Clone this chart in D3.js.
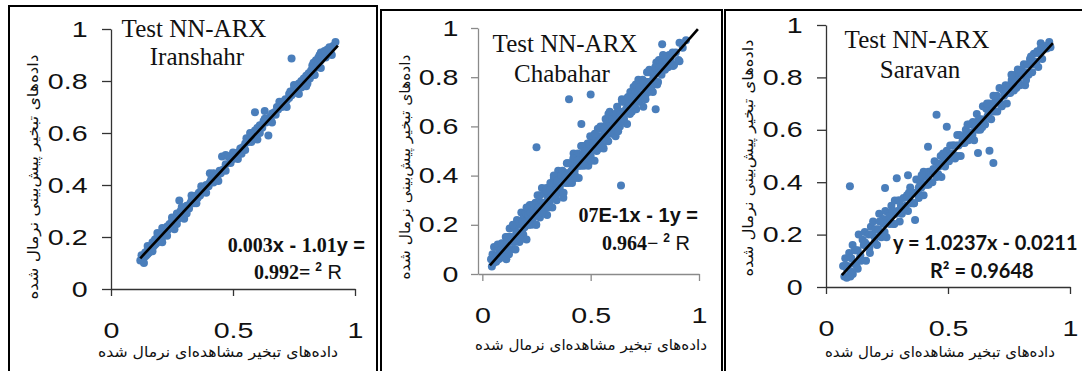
<!DOCTYPE html>
<html><head><meta charset="utf-8">
<script src="https://cdn.jsdelivr.net/npm/d3@7"></script>
<style>body{margin:0;background:#fff;overflow:hidden} svg{display:block}</style>
</head><body><svg id="c" width="1082" height="371"></svg>
<script>
// ---------------- data ----------------
const stations = ["Iranshahr", "Chabahar", "Saravan"];
const chartTitle = "Test NN-ARX";
const xTickValues = [0, 0.5, 1];
const yTickValues = [0, 0.2, 0.4, 0.6, 0.8, 1];
const xAxisTitle = "داده‌های تبخیر مشاهده‌ای نرمال شده";
const yAxisTitle = "داده‌های تبخیر پیش‌بینی نرمال شده";
const trendSlopes = [1.01, 1.0, 1.0237];
const trendIntercepts = [-0.003, 0, -0.0211];
const trendXRanges = [[0.12, 0.93], [0.035, 0.995], [0.065, 0.93]];

const iranshahrPoints = [[.12,.11],[.125,.13],[.13,.12],[.135,.1],[.14,.14],[.14,.125],[.145,.13],[.15,.15],[.15,.135],[.155,.14],[.16,.16],[.16,.145],[.165,.155],[.17,.18],[.17,.16],[.175,.165],[.18,.17],[.18,.19],[.185,.175],[.19,.2],[.19,.18],[.195,.185],[.2,.21],[.2,.19],[.205,.2],[.21,.22],[.21,.2],[.21,.18],[.215,.205],[.22,.23],[.22,.21],[.225,.215],[.23,.24],[.23,.225],[.235,.23],[.24,.25],[.24,.235],[.245,.24],[.25,.26],[.25,.245],[.255,.25],[.26,.27],[.26,.23],[.265,.26],[.27,.29],[.275,.27],[.28,.28],[.28,.34],[.285,.3],[.29,.28],[.3,.3],[.3,.27],[.305,.31],[.31,.32],[.32,.31],[.325,.33],[.33,.34],[.34,.33],[.345,.35],[.35,.36],[.355,.35],[.36,.37],[.365,.36],[.37,.38],[.38,.375],[.385,.39],[.39,.4],[.4,.395],[.405,.41],[.405,.445],[.41,.42],[.42,.41],[.43,.43],[.44,.44],[.445,.455],[.45,.445],[.455,.51],[.46,.46],[.47,.515],[.47,.48],[.48,.51],[.49,.5],[.49,.485],[.5,.5],[.51,.51],[.515,.505],[.52,.525],[.53,.54],[.535,.52],[.54,.545],[.55,.56],[.555,.58],[.56,.565],[.57,.58],[.575,.565],[.58,.6],[.59,.68],[.59,.61],[.6,.6],[.6,.62],[.61,.63],[.61,.6],[.62,.62],[.625,.645],[.63,.685],[.635,.64],[.64,.655],[.645,.59],[.65,.66],[.655,.65],[.66,.675],[.67,.68],[.675,.67],[.68,.7],[.685,.69],[.69,.705],[.7,.7],[.7,.72],[.71,.715],[.715,.73],[.72,.725],[.73,.735],[.73,.75],[.735,.76],[.74,.745],[.74,.887],[.75,.76],[.75,.77],[.755,.755],[.76,.78],[.765,.77],[.77,.79],[.775,.78],[.78,.775],[.78,.8],[.79,.79],[.79,.81],[.8,.8],[.8,.82],[.805,.79],[.81,.83],[.815,.81],[.82,.82],[.82,.84],[.825,.86],[.83,.83],[.835,.823],[.83,.87],[.835,.85],[.84,.88],[.845,.86],[.85,.87],[.85,.89],[.855,.9],[.86,.88],[.86,.91],[.865,.895],[.87,.9],[.875,.915],[.88,.89],[.885,.92],[.89,.91],[.895,.93],[.9,.92],[.905,.9],[.91,.935],[.92,.95],
[.15,.165],[.17,.145],[.19,.215],[.21,.235],[.23,.205],[.25,.275],[.27,.25],[.29,.315],[.31,.29],[.33,.36],[.35,.33],[.37,.395],[.39,.37],[.42,.445],[.44,.415],[.47,.455],[.5,.525],[.52,.5],[.55,.535],[.57,.6],[.6,.575],[.63,.655],[.66,.64],[.69,.72],[.72,.7],[.75,.785],[.77,.75],[.8,.78],[.83,.85],[.86,.85],[.88,.91],[.9,.905]];

const chabaharPoints = [[.040,.06],[.044,.03],[.047,.08],[.052,.045],[.054,.11],[.058,.07],[.064,.05],[.067,.075],[.071,.12],[.075,.06],[.078,.095],[.083,.065],[.086,.1],[.09,.125],[.094,.085],[.097,.07],[.101,.12],[.104,.1],[.108,.15],[.111,.06],[.115,.125],[.119,.15],[.122,.1],[.126,.185],
[.13,.15],[.133,.1],[.138,.19],[.14,.13],[.144,.14],[.15,.19],[.153,.1],[.157,.17],[.16,.22],[.165,.15],[.167,.2],[.171,.13],[.177,.2],[.18,.25],[.184,.17],[.189,.16],[.191,.23],[.195,.2],[.201,.25],[.204,.14],[.208,.22],[.213,.24],[.215,.2],[.219,.28],
[.225,.25],[.228,.2],[.233,.28],[.235,.23],[.239,.24],[.245,.29],[.248,.2],[.252,.26],[.255,.32],[.26,.24],[.262,.29],[.266,.23],[.272,.29],[.275,.35],[.279,.27],[.284,.25],[.286,.33],[.29,.29],[.296,.35],[.299,.24],[.303,.31],[.308,.34],[.31,.29],[.314,.37],
[.32,.36],[.323,.27],[.328,.34],[.33,.39],[.334,.31],[.34,.37],[.343,.3],[.347,.37],[.35,.42],[.355,.35],[.357,.33],[.361,.4],[.367,.37],[.37,.42],[.374,.31],[.38,.39],[.384,.41],[.386,.37],[.39,.45],[.393,.41],[.398,.37],[.402,.45],[.405,.4],[.41,.41],
[.414,.37],[.418,.44],[.421,.49],[.426,.42],[.428,.4],[.432,.47],[.438,.44],[.441,.49],[.445,.39],[.45,.46],[.452,.48],[.456,.44],[.462,.52],[.465,.49],[.469,.44],[.474,.52],[.476,.47],[.48,.48],[.486,.53],[.489,.44],[.493,.5],[.498,.56],[.5,.48],[.504,.53],
[.51,.51],[.513,.56],[.518,.46],[.52,.53],[.524,.55],[.53,.51],[.533,.59],[.537,.56],[.54,.51],[.545,.6],[.547,.54],[.551,.55],[.557,.6],[.56,.51],[.564,.57],[.569,.63],[.571,.55],[.575,.61],[.581,.54],[.584,.6],[.588,.66],[.591,.58],[.596,.57],[.598,.64],
[.602,.59],[.608,.61],[.611,.65],[.615,.56],[.62,.63],[.622,.68],[.626,.61],[.632,.66],[.635,.6],[.639,.66],[.644,.71],[.646,.64],[.65,.62],[.656,.7],[.659,.66],[.663,.71],[.668,.61],[.67,.68],[.674,.7],[.68,.66],[.683,.74],[.687,.71],[.69,.66],[.694,.74],
[.698,.76],[.702,.68],[.707,.74],[.71,.67],[.714,.73],[.72,.79],[.723,.71],[.727,.7],[.73,.77],[.734,.73],[.74,.79],[.743,.68],[.747,.76],[.75,.78],[.754,.73],[.76,.82],[.763,.78],[.767,.74],[.77,.82],[.774,.76],[.78,.78],[.783,.82],[.787,.74],[.79,.8],
[.794,.82],[.799,.78],[.803,.86],[.806,.83],[.811,.78],[.815,.87],[.818,.82],[.823,.86],[.827,.81],[.831,.86],[.836,.85],[.842,.88],[.846,.84],[.85,.87],[.857,.84],[.862,.89],[.87,.87],[.878,.9],[.885,.85],[.893,.9],[.905,.87],[.91,.94],[.925,.92],[.94,.95],
[.105,.1],[.114,.15],[.123,.08],[.132,.15],[.141,.2],[.15,.13],[.159,.16],[.168,.21],[.177,.14],[.186,.21],[.195,.19],[.204,.27],[.213,.2],[.222,.25],[.231,.22],[.24,.28],[.249,.2],[.258,.27],[.267,.32],[.276,.25],[.285,.29],[.294,.34],[.303,.27],[.312,.34],
[.321,.32],[.33,.4],[.339,.32],[.348,.38],[.357,.35],[.366,.4],[.375,.33],[.384,.4],[.393,.45],[.402,.38],[.411,.42],[.42,.47],[.429,.39],[.438,.46],[.447,.44],[.456,.52],[.465,.45],[.474,.5],[.483,.47],[.492,.53],[.501,.46],[.51,.53],[.519,.57],[.528,.5],
[.537,.54],[.546,.59],[.555,.52],[.564,.59],[.573,.57],[.582,.65],[.591,.58],[.6,.63],[.609,.6],[.618,.65],[.627,.58],[.636,.65],[.645,.7],[.654,.63],[.663,.67],[.672,.72],[.681,.65],[.69,.72],[.699,.69],[.708,.77],[.717,.7],[.726,.76],[.735,.73],[.744,.78],
[.753,.71],[.762,.78],[.771,.83],[.78,.76],[.789,.79],[.798,.84],[.807,.77],[.816,.84],[.825,.82],[.834,.89],[.843,.83],
[.40,.71],[.50,.73],[.25,.515],[.64,.36],[.80,.67],[.457,.61],[.83,.934],[.88,.846],[.91,.865]];

const saravanPoints = [[.07,.08],[.075,.04],[.079,.11],[.086,.07],[.089,.08],[.095,.13],[.1,.04],[.104,.11],[.109,.16],[.116,.09],[.119,.14],[.125,.08],[.13,.14],[.134,.2],[.141,.12],[.144,.1],[.15,.18],[.155,.16],[.159,.21],[.164,.1],[.168,.16],[.175,.2],[.178,.15],[.184,.23],
[.189,.2],[.193,.25],[.2,.17],[.203,.22],[.209,.16],[.214,.22],[.218,.28],[.223,.2],[.227,.19],[.234,.26],[.237,.24],[.243,.29],[.248,.19],[.252,.25],[.259,.28],[.262,.24],[.268,.31],[.273,.29],[.277,.24],[.282,.33],[.286,.28],[.293,.29],[.296,.33],[.302,.25],
[.307,.31],[.311,.28],[.318,.34],[.321,.3],[.327,.31],[.332,.35],[.336,.29],[.341,.34],[.345,.38],[.352,.32],[.355,.36],[.361,.32],[.366,.36],[.37,.41],[.377,.36],[.38,.34],[.386,.4],[.391,.38],[.395,.42],[.4,.35],[.404,.39],[.411,.42],[.414,.39],[.42,.44],
[.425,.4],[.429,.44],[.436,.4],[.439,.44],[.445,.48],[.45,.43],[.454,.42],[.459,.47],[.463,.46],[.47,.5],[.473,.42],[.479,.47],[.484,.49],[.488,.46],[.495,.52],[.498,.5],[.504,.48],[.509,.54],[.513,.5],[.52,.51],[.523,.54],[.529,.49],[.534,.54],[.538,.58],
[.543,.54],[.548,.58],[.552,.5],[.559,.55],[.562,.57],[.568,.55],[.573,.6],[.577,.59],[.584,.56],[.587,.62],[.593,.58],[.598,.59],[.602,.63],[.607,.56],[.611,.61],[.618,.66],[.621,.6],[.627,.64],[.632,.6],[.636,.64],[.643,.69],[.646,.63],[.652,.62],[.657,.68],
[.661,.65],[.666,.66],[.67,.7],[.677,.64],[.68,.69],[.686,.73],[.691,.67],[.695,.71],[.702,.67],[.705,.71],[.711,.76],[.716,.7],[.72,.69],[.727,.75],[.73,.73],[.736,.77],[.741,.7],[.745,.74],[.752,.77],[.755,.74],[.761,.79],[.766,.78],[.77,.75],[.777,.81],
[.78,.79],[.786,.83],[.791,.78],[.795,.77],[.802,.83],[.805,.81],[.811,.85],[.816,.77],[.82,.82],[.827,.85],[.83,.81],[.836,.87],[.841,.86],[.845,.82],[.852,.89],[.855,.85],[.861,.86],[.866,.9],[.87,.84],[.877,.89],[.88,.93],[.886,.87],[.891,.91],[.9,.92],[.905,.91],[.915,.935],[.92,.915],
[.08,.08],[.1,.06],[.12,.14],[.14,.11],[.16,.17],[.18,.13],[.2,.19],[.22,.25],[.24,.21],[.26,.27],[.28,.24],[.3,.33],[.32,.3],[.34,.36],[.36,.32],[.38,.38],[.4,.44],[.42,.39],[.44,.45],[.46,.43],[.48,.51],
[.5,.48],[.52,.54],[.54,.5],[.56,.56],[.58,.62],[.6,.58],[.62,.63],[.64,.61],[.66,.7],[.68,.67],[.7,.73],[.72,.69],[.74,.75],[.76,.81],[.78,.76],[.8,.82],[.82,.79],[.84,.88],[.86,.85],[.88,.91],
[.085,.035],[.11,.05],[.13,.07],[.098,.385],[.242,.378],[.29,.415],[.336,.427],[.392,.427],[.418,.535],[.453,.657],[.495,.612],[.623,.511],[.686,.473],[.365,.256],[.67,.52]];

const pointSets = [iranshahrPoints, chabaharPoints, saravanPoints];

const equationLines = [
  [
    [{t:"0.003", f:"serif"}, {t:"x - ", f:"sans"}, {t:"1.01", f:"serif"}, {t:"y =", f:"sans"}],
    [{t:"0.992= ", f:"serif"}, {t:"2", f:"sans", sup:true}, {t:" R", f:"sans", w:"normal"}]
  ],
  [
    [{t:"07", f:"serif"}, {t:"E-1x - 1y =", f:"sans"}],
    [{t:"0.964\u2212 ", f:"serif"}, {t:"2", f:"sans", sup:true}, {t:" R", f:"sans", w:"normal"}]
  ],
  [
    [{t:"y = 1.0237x - 0.0211", f:"lato"}],
    [{t:"R\u00b2 = 0.9648", f:"lato"}]
  ]
];

// ---------------- layout ----------------
const layout = [
  {frame:[9,6,368,380], left:111, right:355, top:29, bottom:289, xMin:0, axis:"#333",
   tick:9, pad:9, title:[194,37], sub:[197,65], xt:[218,357], xtLen:240, yt:[33,177], ytLen:245, eqSize:20,
   eq:[{x:365,y:252,a:"end"},{x:342,y:279,a:"end"}]},
  {frame:[381,10,341,380], left:478, right:699, top:28, bottom:274, xMin:-0.02, axis:"#8a8a8a",
   tick:7, pad:8, title:[565,52], sub:[562,82], xt:[591,350], xtLen:232, yt:[405,167], ytLen:225, eqSize:20,
   eq:[{x:698,y:222,a:"end"},{x:690,y:250,a:"end"}]},
  {frame:[725,10,380,380], left:826, right:1070, top:25, bottom:287, xMin:0, axis:"#333",
   tick:9, pad:9, title:[917,48], sub:[920,78], xt:[940,357], xtLen:230, yt:[748,158], ytLen:237, eqSize:20,
   eq:[{x:893,y:250,a:"start"},{x:930,y:278,a:"start"}]}
];

const fonts = {serif:"'Liberation Serif','Times New Roman',serif", sans:"'Liberation Sans',Arial,sans-serif", lato:"Lato,'Liberation Sans',sans-serif"};

const svg = d3.select("#c");

layout.forEach((L, i) => {
  const g = svg.append("g");
  const x = d3.scaleLinear().domain([L.xMin, 1]).range([L.left, L.right]);
  const y = d3.scaleLinear().domain([0, 1]).range([L.bottom, L.top]);

  g.append("rect").attr("x", L.frame[0]).attr("y", L.frame[1]).attr("width", L.frame[2]).attr("height", L.frame[3])
    .attr("fill", "none").attr("stroke", "#000").attr("stroke-width", 2);

  const xa = g.append("g").attr("transform", `translate(0,${L.bottom})`)
    .call(d3.axisBottom(x).tickValues(xTickValues).tickFormat(d3.format("")).tickSizeInner(7).tickSizeOuter(0).tickPadding(26));
  const ya = g.append("g").attr("transform", `translate(${L.left},0)`)
    .call(d3.axisLeft(y).tickValues(yTickValues).tickFormat(d3.format("")).tickSizeInner(L.tick).tickSizeOuter(0).tickPadding(L.pad));
  [xa, ya].forEach(a => {
    a.select(".domain").attr("stroke", L.axis).attr("stroke-width", 1.3);
    a.selectAll(".tick line").attr("stroke", L.axis).attr("stroke-width", 1.3);
    a.selectAll(".tick text").attr("font-family", fonts.sans).attr("font-size", 22).attr("fill", "#111")
      .attr("transform", "scale(1.3,1)");
  });

  g.append("g").selectAll("circle").data(pointSets[i]).join("circle")
    .attr("cx", d => x(d[0])).attr("cy", d => y(d[1])).attr("r", 4).attr("fill", "#4a7ebb");

  const xr = trendXRanges[i];
  g.append("line")
    .attr("x1", x(xr[0])).attr("y1", y(trendSlopes[i]*xr[0] + trendIntercepts[i]))
    .attr("x2", x(xr[1])).attr("y2", y(trendSlopes[i]*xr[1] + trendIntercepts[i]))
    .attr("stroke", "#000").attr("stroke-width", 2.6);

  g.append("text").attr("x", L.title[0]).attr("y", L.title[1]).attr("text-anchor", "middle")
    .attr("font-family", fonts.serif).attr("font-size", 25).attr("fill", "#111").text(chartTitle);
  g.append("text").attr("x", L.sub[0]).attr("y", L.sub[1]).attr("text-anchor", "middle")
    .attr("font-family", fonts.serif).attr("font-size", 25).attr("fill", "#111").text(stations[i]);

  g.append("text").attr("x", L.xt[0]).attr("y", L.xt[1]).attr("text-anchor", "middle")
    .attr("textLength", L.xtLen).attr("lengthAdjust", "spacingAndGlyphs")
    .attr("font-family", "'DejaVu Sans',sans-serif").attr("font-size", 15).attr("fill", "#111").text(xAxisTitle);
  g.append("text").attr("transform", `translate(${L.yt[0]},${L.yt[1]}) rotate(-90)`).attr("dy", "0.35em")
    .attr("text-anchor", "middle")
    .attr("textLength", L.ytLen).attr("lengthAdjust", "spacingAndGlyphs")
    .attr("font-family", "'DejaVu Sans',sans-serif").attr("font-size", 15).attr("fill", "#111").text(yAxisTitle);

  equationLines[i].forEach((parts, k) => {
    const E = L.eq[k];
    const t = g.append("text").attr("x", E.x).attr("y", E.y).attr("text-anchor", E.a)
      .attr("font-size", L.eqSize).attr("font-weight", "bold").attr("fill", "#111");
    let shifted = false;
    parts.forEach(p => {
      const s = t.append("tspan").attr("font-family", fonts[p.f]).text(p.t);
      if (p.w) s.attr("font-weight", p.w);
      if (p.sup) { s.attr("font-size", 12).attr("dy", -8); shifted = true; }
      else if (shifted) { s.attr("dy", 8); shifted = false; }
    });
  });
});
</script>
</body></html>
